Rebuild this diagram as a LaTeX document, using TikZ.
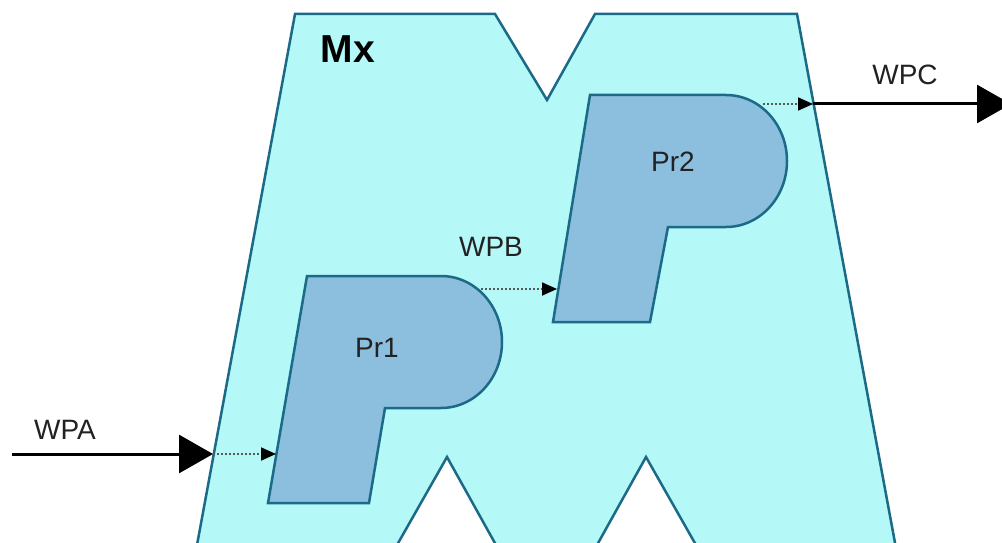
\documentclass[tikz,border=0pt]{standalone}
\usepackage{fontspec}
\setmainfont{Liberation Sans}
\usetikzlibrary{arrows.meta}
\definecolor{mxfill}{HTML}{B4F8F8}
\definecolor{mxline}{HTML}{1B6A87}
\definecolor{prfill}{HTML}{8CBEDD}
\definecolor{txt}{HTML}{222222}
\tikzset{
  mxedge/.style={draw=mxline, line width=2.5pt, line join=miter},
  prshape/.style={fill=prfill, draw=mxline, line width=2.5pt, line join=miter},
  lbl/.style={text=txt, font=\fontsize{28}{30}\selectfont, inner sep=0pt},
  bigflow/.style={draw=black, line width=3pt, -{Triangle[length=34pt,width=38pt]}},
  smallflow/.style={draw=gray!70!black, line width=1.8pt, dash pattern=on 2pt off 2pt,
     -{Triangle[length=15pt,width=13pt,color=black,fill=black]}},
}
\begin{document}
\begin{tikzpicture}[x=1pt,y=-1pt]
\useasboundingbox (0,0) rectangle (1002,543);
\fill[white] (0,0) rectangle (1002,543);
% Mx body
\fill[mxfill] (197,543) -- (295,14) -- (495,14) -- (547,100) -- (595,14) -- (797,14) -- (895,543)
  -- (695,543) -- (646,457) -- (598,543) -- (495,543) -- (447,457) -- (398,543) -- cycle;
\draw[mxedge] (197,545) -- (295,14) -- (495,14) -- (547,100) -- (595,14) -- (797,14) -- (895.4,545);
\draw[mxedge] (397,545) -- (447,457) -- (496,545);
\draw[mxedge] (597,545) -- (646,457) -- (696,545);
% Pr1
\draw[prshape] (307,276) -- (441,276) arc[start angle=-90, end angle=90, x radius=61, y radius=66]
  -- (385,408) -- (369,503) -- (268,503) -- cycle;
% Pr2
\draw[prshape] (590,95) -- (726,95) arc[start angle=-90, end angle=90, x radius=61, y radius=66]
  -- (668,227) -- (650,322) -- (553,322) -- cycle;
% labels
\node[text=black, font=\fontsize{39}{42}\selectfont\bfseries, inner sep=0pt] (mx) at (348,49) {Mx};
\node[lbl] (pr1) at (377,348) {Pr1};
\node[lbl] (pr2) at (673,162) {Pr2};
\node[lbl] (wpa) at (65,430) {WPA};
\node[lbl] (wpb) at (491,247) {WPB};
\node[lbl] (wpc) at (905,75) {WPC};
% connector points
\coordinate (wpaStart) at (12,454);
\coordinate (mxIn) at (213,454);
\coordinate (pr1In) at (276,454);
\coordinate (pr1Out) at (481,289);
\coordinate (pr2In) at (557,289);
\coordinate (pr2Out) at (763,104);
\coordinate (mxOut) at (813,104);
\coordinate (wpcEnd) at (1011,104);
% flows
\draw[bigflow] (wpaStart) -- (mxIn);
\draw[smallflow] (mxIn) -- (pr1In);
\draw[smallflow] (pr1Out) -- (pr2In);
\draw[smallflow] (pr2Out) -- (mxOut);
\draw[bigflow] (mxOut) -- (wpcEnd);
\end{tikzpicture}
\end{document}
